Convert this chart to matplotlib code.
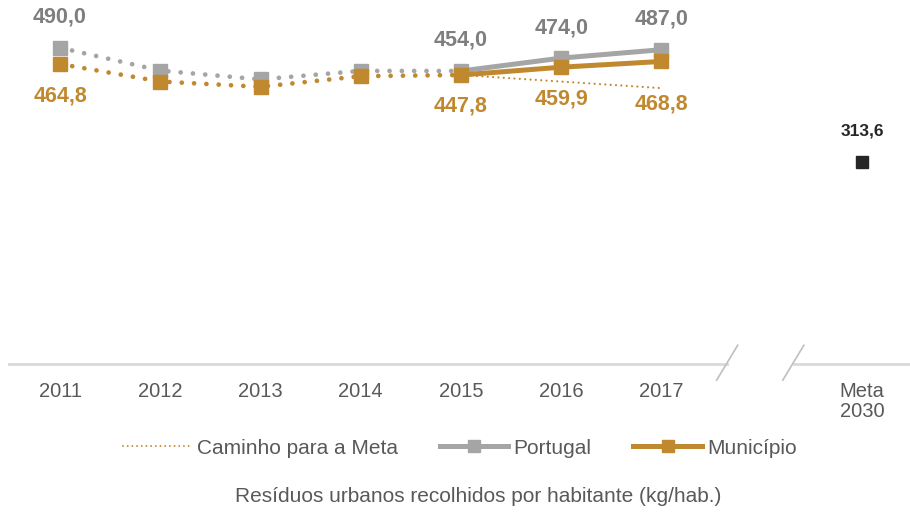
import matplotlib.pyplot as plt

plt.rcParams['font.family'] = ['Liberation Sans', 'DejaVu Sans']

anos = ['2011', '2012', '2013', '2014', '2015', '2016', '2017']
portugal = [490.0, 454.6, 441.0, 454.2, 454.0, 474.0, 487.0]
municipio = [464.8, 437.7, 429.5, 446.0, 447.8, 459.9, 468.8]
caminho = [447.8, 437.6, 427.4]
meta_2030 = 313.6
tick_labels = anos + ['Meta\n2030']

cinza = '#A5A5A5'
laranja = '#C1892F'
cinza_txt = '#7F7F7F'
preto = '#262626'

fig = plt.figure(figsize=(9.1, 5.18), dpi=100)
ax = fig.add_axes([0, 0.2973, 1, 0.7027])

x = list(range(len(anos)))
x_meta = 8

dot = dict(linestyle=(0, (0.01, 2.6)), dash_capstyle='round', lw=3.4)

# caminho para a meta
ax.plot(x[4:], caminho, color=laranja, lw=1.6, linestyle=(0, (0.01, 2.4)),
        dash_capstyle='round', zorder=2)

# portugal
ax.plot(x[:5], portugal[:5], color=cinza, zorder=3, **dot)
ax.plot(x[4:], portugal[4:], color=cinza, lw=3.6, zorder=3)
ax.plot(x, portugal, linestyle='none', marker='s', ms=10, color=cinza, zorder=4)

# municipio
ax.plot(x[:5], municipio[:5], color=laranja, zorder=5, **dot)
ax.plot(x[4:], municipio[4:], color=laranja, lw=3.6, zorder=5)
ax.plot(x, municipio, linestyle='none', marker='s', ms=10, color=laranja, zorder=6)

# meta
ax.plot([x_meta], [meta_2030], linestyle='none', marker='s', ms=9, color=preto)

fmt = lambda v: f'{v:.1f}'.replace('.', ',')
for i in [0, 4, 5, 6]:
    ax.annotate(fmt(portugal[i]), (x[i], portugal[i]), xytext=(0, 22),
                textcoords='offset points', ha='center', va='center',
                fontsize=15.5, fontweight='bold', color=cinza_txt)
for i, off in zip([0, 4, 5, 6], [-23, -22, -23, -31]):
    ax.annotate(fmt(municipio[i]), (x[i], municipio[i]), xytext=(0, off),
                textcoords='offset points', ha='center', va='center',
                fontsize=15.5, fontweight='bold', color=laranja)
ax.annotate(fmt(meta_2030), (x_meta, meta_2030), xytext=(0, 22),
            textcoords='offset points', ha='center', va='center',
            fontsize=12.5, fontweight='bold', color=preto)

# eixo com quebra
ax.plot([-0.51, 6.65], [0, 0], color='#D9D9D9', lw=2, clip_on=False, zorder=1)
ax.plot([7.32, 8.48], [0, 0], color='#D9D9D9', lw=2, clip_on=False, zorder=1)
for xs in [6.55, 7.21]:
    ax.plot([xs, xs + 0.21], [-25, 29], color='#BFBFBF', lw=1.2, clip_on=False)

ax.set_xlim(-0.599, 8.479)
ax.set_ylim(0, 564)
ax.set_xticks(x + [x_meta])
ax.set_xticklabels(tick_labels, fontsize=14.5, color='#595959', linespacing=1.05)
ax.tick_params(axis='x', length=0, pad=13)
ax.set_yticks([])
for s in ax.spines.values():
    s.set_visible(False)

h1, = ax.plot([], [], color=laranja, lw=1.4, linestyle=(0, (0.01, 2.4)),
              dash_capstyle='round')
h2, = ax.plot([], [], color=cinza, lw=3.6, marker='s', ms=9)
h3, = ax.plot([], [], color=laranja, lw=3.6, marker='s', ms=9)
fig.legend([h1, h2, h3], ['Caminho para a Meta', 'Portugal', 'Município'],
           loc='center', bbox_to_anchor=(0.5 + 5 / 910, 1 - 448 / 518), ncol=3,
           frameon=False, fontsize=15, handlelength=3.3, handletextpad=0.25,
           columnspacing=2.0, numpoints=1, labelcolor='#595959')

fig.text(478 / 910, 1 - 497 / 518, 'Resíduos urbanos recolhidos por habitante (kg/hab.)',
         ha='center', va='center', fontsize=15, color='#595959')

fig.savefig('out.png', dpi=100)
